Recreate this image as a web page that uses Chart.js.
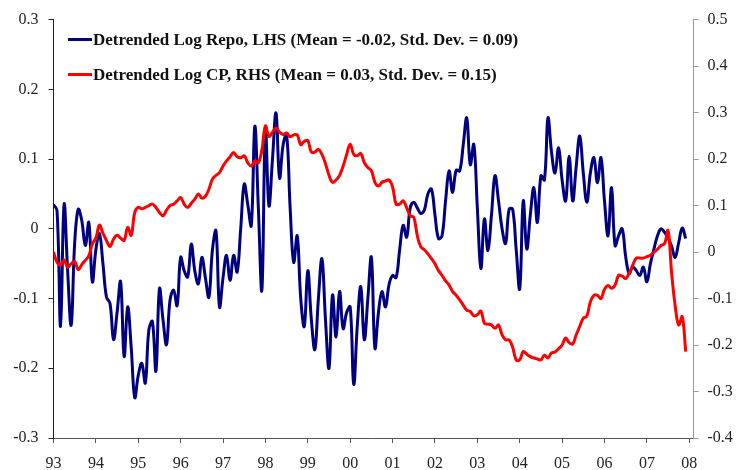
<!DOCTYPE html>
<html>
<head>
<meta charset="utf-8">
<title>Detrended Log Repo and CP</title>
<script src="https://cdn.jsdelivr.net/npm/chart.js@4.4.1/dist/chart.umd.min.js"></script>
<style>
    html, body { margin: 0; padding: 0; background: #fff; }
    #wrap { position: relative; width: 736px; height: 470px; }
    #legend { position: absolute; left: 68px; top: 0; font: bold 17px 'Liberation Serif', 'Times New Roman', serif; color: #111; }
    .legend-row { position: absolute; left: 0; height: 20px; line-height: 20px; white-space: nowrap; display: flex; align-items: center; }
    .legend-swatch { display: inline-block; width: 24px; height: 3px; margin-right: 1px; }
</style>
</head>
<body>
<div id="wrap">
    <canvas id="repoChart" width="736" height="470"></canvas>
    <div id="legend"></div>
</div>
<script>
// Year ticks on the horizontal axis
const yearTicks = [1993, 1994, 1995, 1996, 1997, 1998, 1999, 2000, 2001, 2002, 2003, 2004, 2005, 2006, 2007, 2008];
const yearLabels = ['93', '94', '95', '96', '97', '98', '99', '00', '01', '02', '03', '04', '05', '06', '07', '08'];

// Axis tick values
const leftTicks = [-0.3, -0.2, -0.1, 0, 0.1, 0.2, 0.3];
const rightTicks = [-0.4, -0.3, -0.2, -0.1, 0, 0.1, 0.2, 0.3, 0.4, 0.5];

// Series labels
const repoLabel = 'Detrended Log Repo, LHS (Mean = -0.02, Std. Dev. = 0.09)';
const cpLabel = 'Detrended Log CP, RHS (Mean = 0.03, Std. Dev. = 0.15)';

// Monthly values, Jan 1993 - Dec 2007
const repoValues = [
    0.035, 0.026, -0.140, 0.035, -0.060, -0.138, -0.020, 0.028, 0.012, -0.024, 0.009, -0.076,
    -0.030, -0.007, -0.050, -0.098, -0.107, -0.159, -0.120, -0.076, -0.183, -0.112, -0.170, -0.242,
    -0.210, -0.193, -0.221, -0.145, -0.133, -0.204, -0.086, -0.130, -0.166, -0.102, -0.088, -0.110,
    -0.041, -0.060, -0.069, -0.022, -0.060, -0.079, -0.041, -0.070, -0.098, -0.030, -0.003, -0.112,
    -0.070, -0.038, -0.074, -0.038, -0.062, 0.000, 0.064, 0.035, 0.005, 0.147, 0.030, -0.088,
    0.145, 0.033, 0.100, 0.166, 0.073, 0.120, 0.135, 0.030, -0.048, -0.010, -0.100, -0.140,
    -0.060, -0.130, -0.173, -0.100, -0.043, -0.130, -0.200, -0.095, -0.155, -0.090, -0.143, -0.120,
    -0.112, -0.223, -0.140, -0.083, -0.159, -0.100, -0.041, -0.171, -0.120, -0.090, -0.112, -0.080,
    -0.067, -0.070, -0.030, 0.005, -0.012, 0.030, 0.038, 0.030, 0.022, 0.027, 0.050, 0.057,
    0.020, -0.014, -0.010, 0.040, 0.083, 0.052, 0.084, 0.083, 0.120, 0.159, 0.092, 0.121,
    0.030, -0.057, 0.014, -0.031, 0.020, 0.076, 0.040, 0.000, -0.021, 0.028, 0.028, -0.030,
    -0.086, 0.040, -0.029, 0.020, 0.059, 0.009, 0.076, 0.070, 0.159, 0.110, 0.080, 0.116,
    0.070, 0.040, 0.104, 0.040, 0.090, 0.133, 0.080, 0.038, 0.080, 0.102, 0.066, 0.102,
    0.040, -0.010, 0.059, -0.024, -0.010, 0.000, -0.040, -0.064, -0.055, -0.060, -0.067, -0.055,
    -0.076, -0.050, -0.029, -0.010, 0.000, -0.005, -0.013, -0.025, -0.041, -0.020, 0.001, -0.014
];
const cpValues = [
    0.000, -0.022, -0.028, -0.017, -0.033, -0.025, -0.020, -0.038, -0.027, -0.018, -0.008, 0.018,
    0.030, 0.058, 0.040, 0.025, 0.012, 0.028, 0.036, 0.030, 0.025, 0.053, 0.036, 0.085,
    0.096, 0.093, 0.096, 0.100, 0.103, 0.096, 0.085, 0.078, 0.090, 0.100, 0.103, 0.110,
    0.117, 0.103, 0.096, 0.105, 0.114, 0.125, 0.116, 0.120, 0.135, 0.157, 0.165, 0.171,
    0.185, 0.196, 0.205, 0.214, 0.205, 0.203, 0.207, 0.192, 0.185, 0.196, 0.192, 0.220,
    0.271, 0.249, 0.258, 0.267, 0.258, 0.253, 0.256, 0.248, 0.252, 0.252, 0.231, 0.238,
    0.240, 0.215, 0.215, 0.221, 0.210, 0.190, 0.165, 0.150, 0.155, 0.165, 0.185, 0.210,
    0.232, 0.210, 0.207, 0.212, 0.192, 0.182, 0.175, 0.150, 0.142, 0.150, 0.153, 0.155,
    0.140, 0.103, 0.103, 0.110, 0.095, 0.078, 0.075, 0.035, 0.011, 0.005, -0.004, -0.014,
    -0.025, -0.040, -0.050, -0.062, -0.071, -0.085, -0.093, -0.103, -0.114, -0.125, -0.128, -0.137,
    -0.135, -0.127, -0.153, -0.155, -0.157, -0.164, -0.157, -0.178, -0.189, -0.189, -0.205, -0.232,
    -0.232, -0.214, -0.220, -0.225, -0.228, -0.230, -0.232, -0.222, -0.228, -0.217, -0.215, -0.208,
    -0.200, -0.185, -0.195, -0.198, -0.178, -0.160, -0.142, -0.138, -0.107, -0.093, -0.093, -0.100,
    -0.080, -0.072, -0.078, -0.071, -0.050, -0.052, -0.057, -0.045, -0.028, -0.013, -0.013, -0.013,
    -0.010, -0.007, 0.000, 0.006, 0.014, 0.018, 0.046, -0.045, -0.115, -0.157, -0.139, -0.214
];

// Month positions as fractional years
const monthPositions = repoValues.map((_, i) => 1993 + i / 12);

const tickFont = { family: "'Liberation Serif', 'Times New Roman', serif", size: 16 };

function formatTick(value) {
    return value === 0 ? '0' : value.toFixed(1);
}

const ctx = document.getElementById('repoChart').getContext('2d');

const repoChart = new Chart(ctx, {
    type: 'line',
    data: {
        datasets: [
            {
                label: repoLabel,
                data: monthPositions.map((x, i) => ({ x: x, y: repoValues[i] })),
                borderColor: '#000080',
                backgroundColor: '#000080',
                borderWidth: 3,
                pointRadius: 0,
                tension: 0.4,
                yAxisID: 'y',
                order: 1
            },
            {
                label: cpLabel,
                data: monthPositions.map((x, i) => ({ x: x, y: cpValues[i] })),
                borderColor: '#ff0000',
                backgroundColor: '#ff0000',
                borderWidth: 3,
                pointRadius: 0,
                tension: 0.4,
                yAxisID: 'y1',
                order: 0
            }
        ]
    },
    options: {
        responsive: false,
        animation: false,
        layout: { padding: { top: 16, left: 0, right: 0, bottom: 0 } },
        plugins: {
            legend: { display: false },
            tooltip: { enabled: false }
        },
        scales: {
            x: {
                type: 'linear',
                min: 1993,
                max: 2008.1,
                afterBuildTicks: axis => { axis.ticks = yearTicks.map(v => ({ value: v })); },
                afterFit: axis => { axis.height = 32; },
                ticks: {
                    font: tickFont,
                    color: '#222',
                    padding: 11,
                    maxRotation: 0,
                    autoSkip: false,
                    callback: (value, index) => yearLabels[index]
                },
                grid: { drawOnChartArea: false, drawTicks: true, tickLength: 5, color: '#555' },
                border: { display: true, color: '#555', width: 1 }
            },
            y: {
                type: 'linear',
                position: 'left',
                min: -0.3,
                max: 0.3,
                afterBuildTicks: axis => { axis.ticks = leftTicks.map(v => ({ value: v })); },
                afterFit: axis => { axis.width = 53.5; },
                ticks: {
                    font: tickFont,
                    color: '#222',
                    padding: 10,
                    callback: value => formatTick(value)
                },
                grid: { drawOnChartArea: false, drawTicks: true, tickLength: 5, color: '#222' },
                border: { display: true, color: '#222', width: 1 }
            },
            y1: {
                type: 'linear',
                position: 'right',
                min: -0.4,
                max: 0.5,
                afterBuildTicks: axis => { axis.ticks = rightTicks.map(v => ({ value: v })); },
                afterFit: axis => { axis.width = 42.5; },
                ticks: {
                    font: tickFont,
                    color: '#222',
                    padding: 9,
                    callback: value => formatTick(value)
                },
                grid: { drawOnChartArea: false, drawTicks: true, tickLength: 5, color: '#999' },
                border: { display: true, color: '#999', width: 1 }
            }
        }
    }
});

/**
 * Build the in-plot legend from the chart datasets
 */
function buildLegend(chart) {
    const legend = document.getElementById('legend');
    const rowCenters = [39.5, 74.5];
    chart.data.datasets.forEach((dataset, index) => {
        const row = document.createElement('div');
        row.className = 'legend-row';
        row.style.top = (rowCenters[index] - 10) + 'px';

        const swatch = document.createElement('span');
        swatch.className = 'legend-swatch';
        swatch.style.background = dataset.borderColor;

        const text = document.createElement('span');
        text.textContent = dataset.label;

        row.appendChild(swatch);
        row.appendChild(text);
        legend.appendChild(row);
    });
}

buildLegend(repoChart);
</script>
</body>
</html>
